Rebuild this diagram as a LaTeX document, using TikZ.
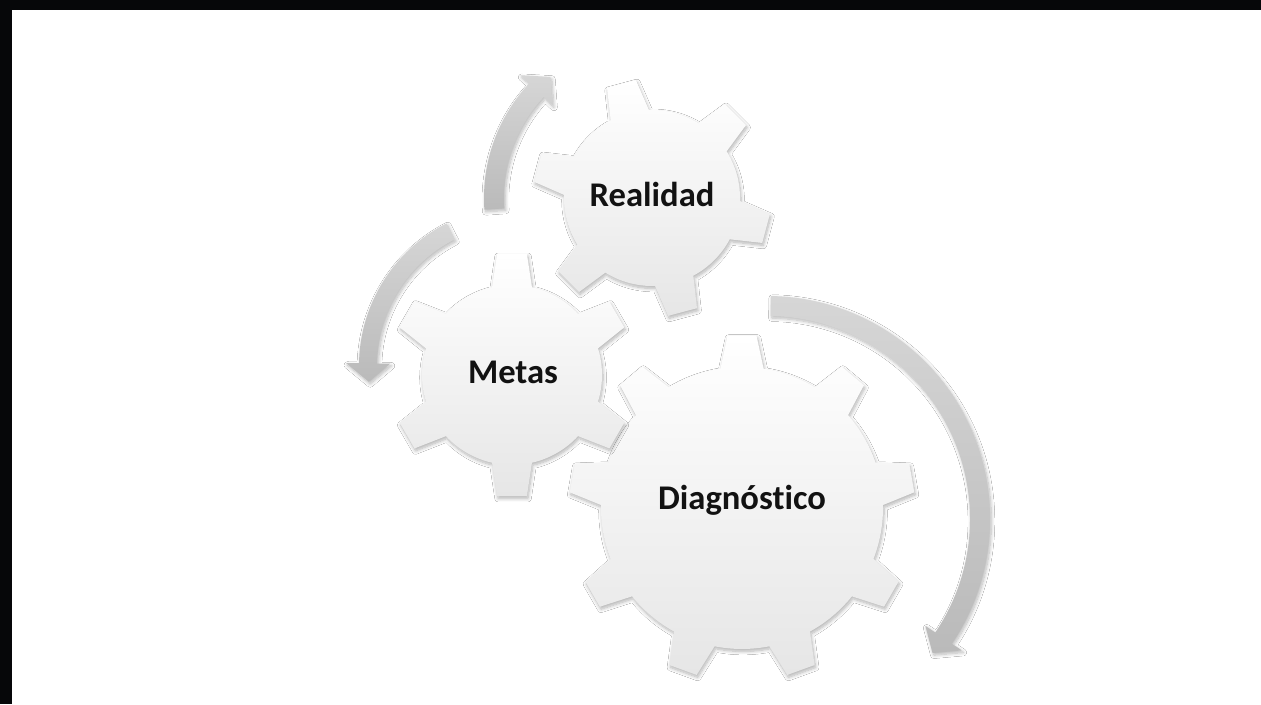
\documentclass[tikz,border=0pt]{standalone}
\usepackage{fontspec}
\setmainfont{Carlito}[Ligatures={NoCommon}]
\usetikzlibrary{shadows.blur}
\usetikzlibrary{positioning}
\definecolor{frame}{RGB}{6,7,9}
\definecolor{inktext}{RGB}{18,18,18}
\definecolor{gearlow}{RGB}{230,230,230}
\definecolor{arrowhi}{RGB}{214,214,214}
\definecolor{arrowlo}{RGB}{186,186,186}
\tikzstyle{base}=[x=0.02cm, y=0.02cm, inner sep=0pt, outer sep=0pt]
\tikzstyle{gearbody}=[top color=white, middle color=white, bottom color=gearlow,
  blur shadow={shadow xshift=0.6pt, shadow yshift=-1.4pt, shadow opacity=30, shadow blur steps=8}]
\tikzstyle{turn}=[top color=arrowhi, bottom color=arrowlo,
  blur shadow={shadow xshift=0.8pt, shadow yshift=-1.2pt, shadow opacity=28, shadow blur steps=8}]
\tikzstyle{geartext}=[text=inktext, font=\fontsize{19.7}{24}\selectfont\bfseries, anchor=base]
\newcommand*{\gear}[7]{%
  \pgfmathsetmacro{\gstep}{360/#2}
  \path [gearbody, shift={(#1)}] (#5-#6:#3)
    \foreach \k [evaluate=\k as \a using #5+(\k-1)*\gstep] in {1,...,#2} {
      -- (\a-#7:#4) -- (\a+#7:#4) -- (\a+#6:#3)
      arc [start angle=\a+#6, end angle=\a+\gstep-#6, radius=#3]
    } -- cycle;
}
\newcommand*{\turnarrow}[6]{%
  \path [turn, shift={(#1)}] (#3:#2+#6) arc [start angle=#3, end angle=#4, radius=#2+#6]
    -- (#4:#2+22) -- (#5:#2) -- (#4:#2-22) -- (#4:#2-#6)
    arc [start angle=#4, end angle=#3, radius=#2-#6] -- cycle;
}
\begin{document}
\begin{tikzpicture}[base]
    \useasboundingbox (0,0) rectangle (1261,704);
    \fill [frame] (0,0) rectangle (1261,704);
    \fill [white] (12,0) rectangle (1261,694);
        \coordinate (dc) at (742,196);
        \coordinate (mc) at (512,329);
        \coordinate (rc) at (652,506);
        \coordinate (ma) at (519,338);
        \coordinate (da) at (767,185);
        \turnarrow{rc}{158}{184}{137}{130}{10}
        \turnarrow{ma}{151}{117}{179}{186}{9}
        \turnarrow{da}{213}{89}{-34}{-39}{10}
        \gear{dc}{9}{141}{173}{90}{8.8}{4.8}
        \gear{mc}{6}{90}{122}{90}{12.8}{7}
        \gear{rc}{6}{88}{119}{105}{13}{7.2}
        \node [geartext] (diagnostico) at (742,195) {Diagnóstico};
        \node [geartext] (metas) at (513,320) {Metas};
        \node [geartext] (realidad) at (652,497) {Realidad};
\end{tikzpicture}
\end{document}
